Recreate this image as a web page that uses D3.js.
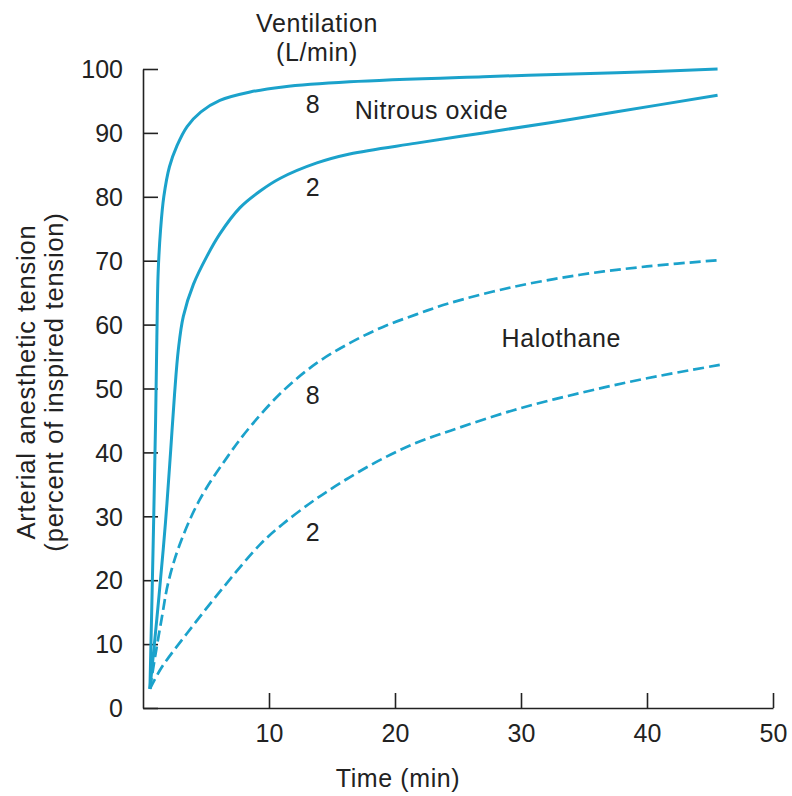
<!DOCTYPE html>
<html>
<head>
<meta charset="utf-8">
<script src="https://cdn.jsdelivr.net/npm/d3@7"></script>
<style>
  html, body { margin: 0; padding: 0; background: #fff; }
  svg { display: block; }
  text { font-family: "Liberation Sans", Arial, Helvetica, sans-serif; fill: #222; }
</style>
</head>
<body>
<div id="chart"></div>
<script>
// ---- Data (time in min, arterial tension in % of inspired) ----
const xTicks = [10, 20, 30, 40, 50];
const yTicks = [0, 10, 20, 30, 40, 50, 60, 70, 80, 90, 100];

const n2o8 = [
  [0.55, 3], [0.8, 25], [1.0, 45], [1.1, 58], [1.2, 68], [1.4, 75], [1.65, 80],
  [2.1, 84.7], [2.7, 88], [3.5, 91], [4.6, 93.3], [6.1, 95.1], [8.5, 96.4],
  [11.1, 97.2], [16.4, 98], [27, 98.8], [37.6, 99.4], [45.6, 100]
];
const n2o2 = [
  [0.55, 3], [1.1, 14], [1.6, 24.7], [1.9, 32], [2.2, 40.4], [2.5, 49], [2.8, 56],
  [3.2, 61.3], [4.0, 66.3], [5.1, 70.8], [6.1, 74.2], [7.7, 78.3], [9.3, 80.9],
  [10.9, 82.9], [13.8, 85.3], [16.4, 86.7], [21.7, 88.4], [27, 90], [32.3, 91.6],
  [37.6, 93.3], [45.6, 95.9]
];
const hal8 = [
  [0.55, 3], [1.0, 8.5], [1.5, 14.2], [2.0, 19.6], [2.9, 25.5], [4.5, 32.6],
  [6.7, 39.3], [8.5, 44], [11.1, 49.6], [13.8, 54], [16.4, 57.1], [19, 59.6],
  [21.7, 61.6], [24.4, 63.4], [29.4, 65.9], [34.7, 67.8], [40, 69.1], [45.8, 70.1]
];
const hal2 = [
  [0.55, 3], [1.5, 6.4], [3.5, 11.7], [6.1, 18.2], [9.3, 25.6], [11.1, 28.8],
  [13.8, 32.8], [16.4, 36.1], [19, 39], [21.7, 41.5], [24.4, 43.4], [29.4, 46.6],
  [34.7, 49.3], [40, 51.6], [45.8, 53.7]
];

const seriesList = [
  { name: "Nitrous oxide 8", values: n2o8, dashed: false },
  { name: "Nitrous oxide 2", values: n2o2, dashed: false },
  { name: "Halothane 8", values: hal8, dashed: true },
  { name: "Halothane 2", values: hal2, dashed: true }
];

// annotation labels, positioned by data coordinates
const curveLabels = [
  { text: "8", t: 13.5, v: 94.5 },
  { text: "2", t: 13.5, v: 81.5 },
  { text: "8", t: 13.5, v: 49 },
  { text: "2", t: 13.5, v: 27.5 }
];
const gasLabels = [
  { text: "Nitrous oxide", t: 16.8, v: 93.6, anchor: "start" },
  { text: "Halothane", t: 33.2, v: 57.8, anchor: "middle" }
];

// ---- Layout ----
const W = 792, H = 796;
const x = d3.scaleLinear().domain([0, 50]).range([143, 773]);
const y = d3.scaleLinear().domain([0, 100]).range([708, 69]);
const lineColor = "#1ba2cb";

const svg = d3.select("#chart").append("svg")
  .attr("width", W).attr("height", H);

// Axes
const yAxis = d3.axisLeft(y).tickValues(yTicks).tickSize(-15).tickSizeOuter(0).tickPadding(20);
const xAxis = d3.axisBottom(x).tickValues(xTicks).tickSize(-15).tickSizeOuter(0).tickPadding(16);

const gy = svg.append("g").attr("transform", `translate(${x(0)},0)`).call(yAxis);
const gx = svg.append("g").attr("transform", `translate(0,${y(0)})`).call(xAxis);

[gx, gy].forEach(g => {
  g.select(".domain").attr("stroke", "#222").attr("stroke-width", 1.6);
  g.selectAll(".tick line").attr("stroke", "#222").attr("stroke-width", 1.6);
  g.selectAll(".tick text")
    .attr("fill", "#222")
    .style("font-family", "'Liberation Sans', Arial, Helvetica, sans-serif")
    .style("font-size", "25px");
});
gy.selectAll(".tick text").attr("dy", "0.35em");

// Curves
const line = d3.line()
  .x(d => x(d[0]))
  .y(d => y(d[1]))
  .curve(d3.curveCatmullRom.alpha(0.5));

svg.append("g").selectAll("path")
  .data(seriesList)
  .join("path")
  .attr("d", d => line(d.values))
  .attr("fill", "none")
  .attr("stroke", lineColor)
  .attr("stroke-width", d => d.dashed ? 2.7 : 3)
  .attr("stroke-linejoin", "round")
  .attr("stroke-dasharray", d => d.dashed ? "11,5" : null);

// Labels
const textStyle = sel => sel
  .style("font-size", "25px")
  .style("letter-spacing", "0.6px");

svg.append("g").selectAll("text")
  .data(curveLabels)
  .join("text")
  .attr("x", d => x(d.t))
  .attr("y", d => y(d.v))
  .attr("text-anchor", "middle")
  .attr("dy", "0.35em")
  .text(d => d.text)
  .call(textStyle);

svg.append("g").selectAll("text")
  .data(gasLabels)
  .join("text")
  .attr("x", d => x(d.t))
  .attr("y", d => y(d.v))
  .attr("text-anchor", d => d.anchor)
  .attr("dy", "0.35em")
  .text(d => d.text)
  .call(textStyle);

// Ventilation header
svg.append("text").attr("x", 317).attr("y", 32).attr("text-anchor", "middle")
  .text("Ventilation").call(textStyle);
svg.append("text").attr("x", 317).attr("y", 61).attr("text-anchor", "middle")
  .text("(L/min)").call(textStyle);

// Axis titles
svg.append("text").attr("x", 398).attr("y", 787).attr("text-anchor", "middle")
  .text("Time (min)").call(textStyle);

const yTitle = svg.append("g").attr("transform", "translate(0,382) rotate(-90)");
yTitle.append("text").attr("x", 0).attr("y", 35).attr("text-anchor", "middle")
  .text("Arterial anesthetic tension")
  .style("font-size", "25.5px").style("letter-spacing", "0.8px");
yTitle.append("text").attr("x", 0).attr("y", 63).attr("text-anchor", "middle")
  .text("(percent of inspired tension)")
  .style("font-size", "25.5px").style("letter-spacing", "0.8px");
</script>
</body>
</html>
